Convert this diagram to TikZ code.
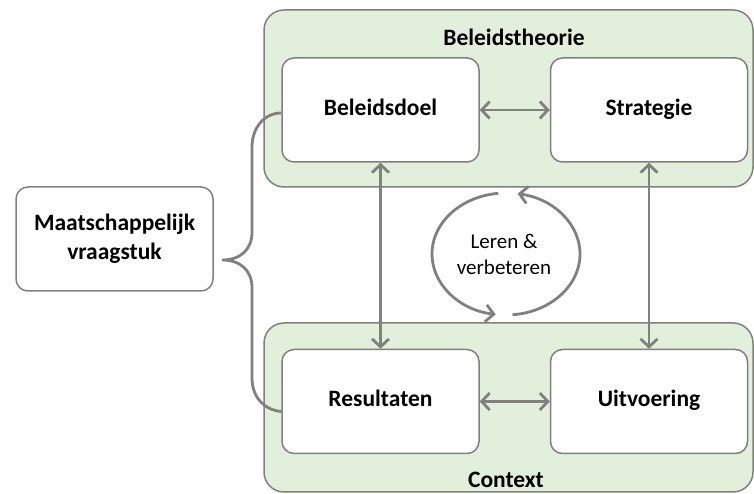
\documentclass[tikz,border=0pt]{standalone}
\usepackage{fontspec}
\setmainfont{Carlito}
\usetikzlibrary{calc}
\usetikzlibrary{positioning}
\usetikzlibrary{arrows.meta}

\definecolor{linegray}{HTML}{808080}
\definecolor{areagreen}{HTML}{E2EFDA}

\begin{document}
\begin{tikzpicture}[
        x=1pt, y=1pt,
        block/.style={rectangle, rounded corners=12pt, draw=linegray, line width=1.5pt, fill=white,
            minimum width=197pt, minimum height=104pt, align=center,
            font=\fontsize{23.5}{29}\selectfont\bfseries},
        single/.style={block, text height=16pt, text depth=5pt},
        area/.style={rectangle, rounded corners=20pt, draw=linegray, line width=1.5pt, fill=areagreen,
            minimum width=489pt},
        title/.style={font=\fontsize{23.5}{29}\selectfont\bfseries},
        link/.style={draw=linegray, line width=2.8pt,
            {Straight Barb[length=8pt,width=17pt]}-{Straight Barb[length=8pt,width=17pt]}},
        cyc/.style={draw=linegray, line width=2.8pt, -{Straight Barb[length=8pt,width=17pt]}},
        brace/.style={draw=linegray, line width=2.8pt},
    ]

    \useasboundingbox (0,0) rectangle (754,494);

    % Green areas
    \node[area, minimum height=177pt] (theorie) at (508.5,395.5) {};
    \node[area, minimum height=169pt] (context) at (508.5,86.5) {};

    \node[title] (theorietxt) at (514,457) {Beleidstheorie};
    \node[title] (contexttxt) at (506,14) {Context};

    % Blocks
    \node[block] (vraag) at (114.5,255) {Maatschappelijk\\vraagstuk};
    \node[single] (doel) at (380.5,384) {Beleidsdoel};
    \node[single, right=70pt of doel] (strat) {Strategie};
    \node[single, below=186pt of doel] (res) {Resultaten};
    \node[single, right=70pt of res] (uitv) {Uitvoering};

    % Links between blocks
    \draw[link] (doel.east) -- (strat.west);
    \draw[link] (res.east) -- (uitv.west);
    \draw[link] (doel.south) -- (res.north);
    \draw[link] (strat.south) -- (uitv.north);

    % Learning cycle
    \node[font=\fontsize{21}{26}\selectfont, align=center] (leren) at (504,240) {Leren \&\\verbeteren};
    \coordinate (cyc) at (506,240);
    \draw[cyc] ($(cyc)+(96:74pt and 61pt)$) arc[start angle=96, end angle=262, x radius=74pt, y radius=61pt];
    \draw[cyc] ($(cyc)+(-85:74pt and 61pt)$) arc[start angle=-85, end angle=81, x radius=74pt, y radius=61pt];

    % Brace from the question to both rows
    \coordinate (tip) at (222,234);
    \draw[brace] ([yshift=-3pt]doel.west) .. controls (264,381) and (252,366) .. (252,347)
        -- (252,262) .. controls (252,244) and (240,234) .. (tip)
        .. controls (240,234) and (252,224) .. (252,206)
        -- (252,116) .. controls (252,97) and (264,84) .. ([yshift=-10pt]res.west);
\end{tikzpicture}
\end{document}
